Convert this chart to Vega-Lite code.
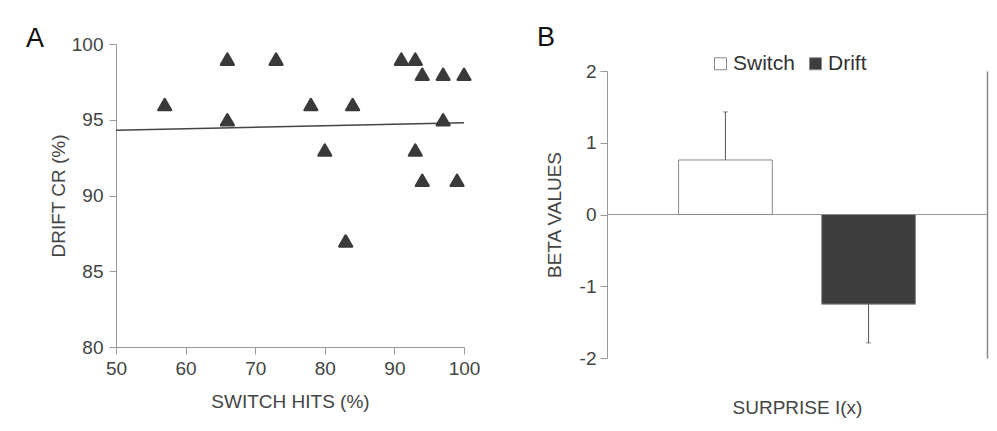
{
  "$schema": "https://vega.github.io/schema/vega-lite/v6.json",
  "background": "white",
  "padding": {"left": 26, "top": 24, "right": 5, "bottom": 5},
  "spacing": 57,
  "resolve": {"scale": {"fill": "independent"}, "legend": {"fill": "independent"}},
  "config": {
    "font": "Liberation Sans",
    "view": {"stroke": null},
    "axis": {"labelFont": "Liberation Sans", "titleFont": "Liberation Sans", "labelColor": "#444", "titleColor": "#444", "domainColor": "#999", "tickColor": "#999", "grid": false, "labelFontSize": 19, "titleFontSize": 19, "titleFontWeight": "normal", "tickSize": 7, "labelFlush": false},
    "title": {"fontSize": 27, "fontWeight": "normal", "color": "#111", "anchor": "start", "frame": "group", "font": "Liberation Sans", "baseline": "alphabetic"},
    "legend": {"labelFont": "Liberation Sans"}
  },
  "datasets": {
    "points": [
      {"switch_hits": 57, "drift_cr": 96},
      {"switch_hits": 66, "drift_cr": 99},
      {"switch_hits": 66, "drift_cr": 95},
      {"switch_hits": 73, "drift_cr": 99},
      {"switch_hits": 78, "drift_cr": 96},
      {"switch_hits": 84, "drift_cr": 96},
      {"switch_hits": 80, "drift_cr": 93},
      {"switch_hits": 83, "drift_cr": 87},
      {"switch_hits": 91, "drift_cr": 99},
      {"switch_hits": 93, "drift_cr": 99},
      {"switch_hits": 94, "drift_cr": 98},
      {"switch_hits": 97, "drift_cr": 98},
      {"switch_hits": 100, "drift_cr": 98},
      {"switch_hits": 97, "drift_cr": 95},
      {"switch_hits": 93, "drift_cr": 93},
      {"switch_hits": 94, "drift_cr": 91},
      {"switch_hits": 99, "drift_cr": 91}
    ],
    "fit": [
      {"switch_hits": 50, "drift_cr": 94.3},
      {"switch_hits": 100, "drift_cr": 94.8}
    ],
    "bars": [
      {"condition": "Switch", "beta": 0.76, "err_low": 0.76, "err_high": 1.43, "cap": 1.43},
      {"condition": "Drift", "beta": -1.25, "err_low": -1.79, "err_high": -1.25, "cap": -1.79}
    ]
  },
  "hconcat": [
    {
      "width": 348,
      "height": 303,
      "title": {"text": "A", "dx": -90, "offset": -18},
      "layer": [
        {
          "data": {"name": "fit"},
          "mark": {"type": "line", "color": "#444", "strokeWidth": 1.5},
          "encoding": {
            "x": {"field": "switch_hits", "type": "quantitative", "scale": {"domain": [50, 100]}, "axis": {"values": [50, 60, 70, 80, 90, 100], "title": "SWITCH HITS (%)", "labelPadding": 5, "titlePadding": 14}},
            "y": {"field": "drift_cr", "type": "quantitative", "scale": {"domain": [80, 100]}, "axis": {"values": [80, 85, 90, 95, 100], "title": "DRIFT CR (%)", "labelPadding": 6, "titlePadding": 3}}
          }
        },
        {
          "data": {"name": "points"},
          "mark": {"type": "point", "shape": "triangle-up", "size": 160, "fill": "#3a3a3a", "stroke": "#3a3a3a", "strokeWidth": 2.5, "strokeJoin": "round", "opacity": 1},
          "encoding": {
            "x": {"field": "switch_hits", "type": "quantitative"},
            "y": {"field": "drift_cr", "type": "quantitative"}
          }
        }
      ]
    },
    {
      "width": 380,
      "height": 314,
      "title": {"text": "B", "dx": -70, "offset": -8},
      "data": {"name": "bars"},
      "layer": [
        {
          "mark": {"type": "rule", "color": "#999", "strokeWidth": 1},
          "encoding": {"y": {"datum": 0, "type": "quantitative", "axis": null}}
        },
        {
          "mark": {"type": "bar", "stroke": "#888", "strokeWidth": 1},
          "encoding": {
            "x": {"field": "condition", "type": "nominal", "sort": ["Switch", "Drift"], "scale": {"paddingInner": 0.345, "paddingOuter": 0.5}, "axis": {"labels": false, "ticks": false, "domain": false, "title": "SURPRISE I(x)", "titlePadding": 40}},
            "y": {"field": "beta", "type": "quantitative", "scale": {"domain": [-2, 2], "range": [314, 27]}, "axis": {"values": [-2, -1, 0, 1, 2], "labelExpr": "datum.value < 0 ? '-' + abs(datum.value) : '' + datum.value", "title": "BETA VALUES", "labelPadding": 4, "titlePadding": 15}},
            "fill": {"field": "condition", "type": "nominal", "scale": {"domain": ["Switch", "Drift"], "range": ["#ffffff", "#3d3d3d"]}, "legend": {"title": null, "orient": "none", "legendX": 103, "legendY": 9, "direction": "horizontal", "symbolType": "square", "symbolSize": 144, "symbolStrokeColor": "#888", "symbolStrokeWidth": 1, "labelFontSize": 21, "labelColor": "#333", "labelOffset": 2, "columnPadding": 10}}
          }
        },
        {
          "mark": {"type": "rule", "color": "#555", "strokeWidth": 1},
          "encoding": {
            "x": {"field": "condition", "type": "nominal", "sort": ["Switch", "Drift"]},
            "y": {"field": "err_low", "type": "quantitative", "axis": {"orient": "right", "labels": false, "ticks": false, "title": null, "domainColor": "#888", "domainWidth": 1.5}},
            "y2": {"field": "err_high"}
          }
        },
        {
          "mark": {"type": "tick", "color": "#555", "size": 5, "thickness": 1},
          "encoding": {
            "x": {"field": "condition", "type": "nominal", "sort": ["Switch", "Drift"]},
            "y": {"field": "cap", "type": "quantitative", "axis": null}
          }
        }
      ],
      "resolve": {"axis": {"y": "independent"}}
    }
  ]
}
